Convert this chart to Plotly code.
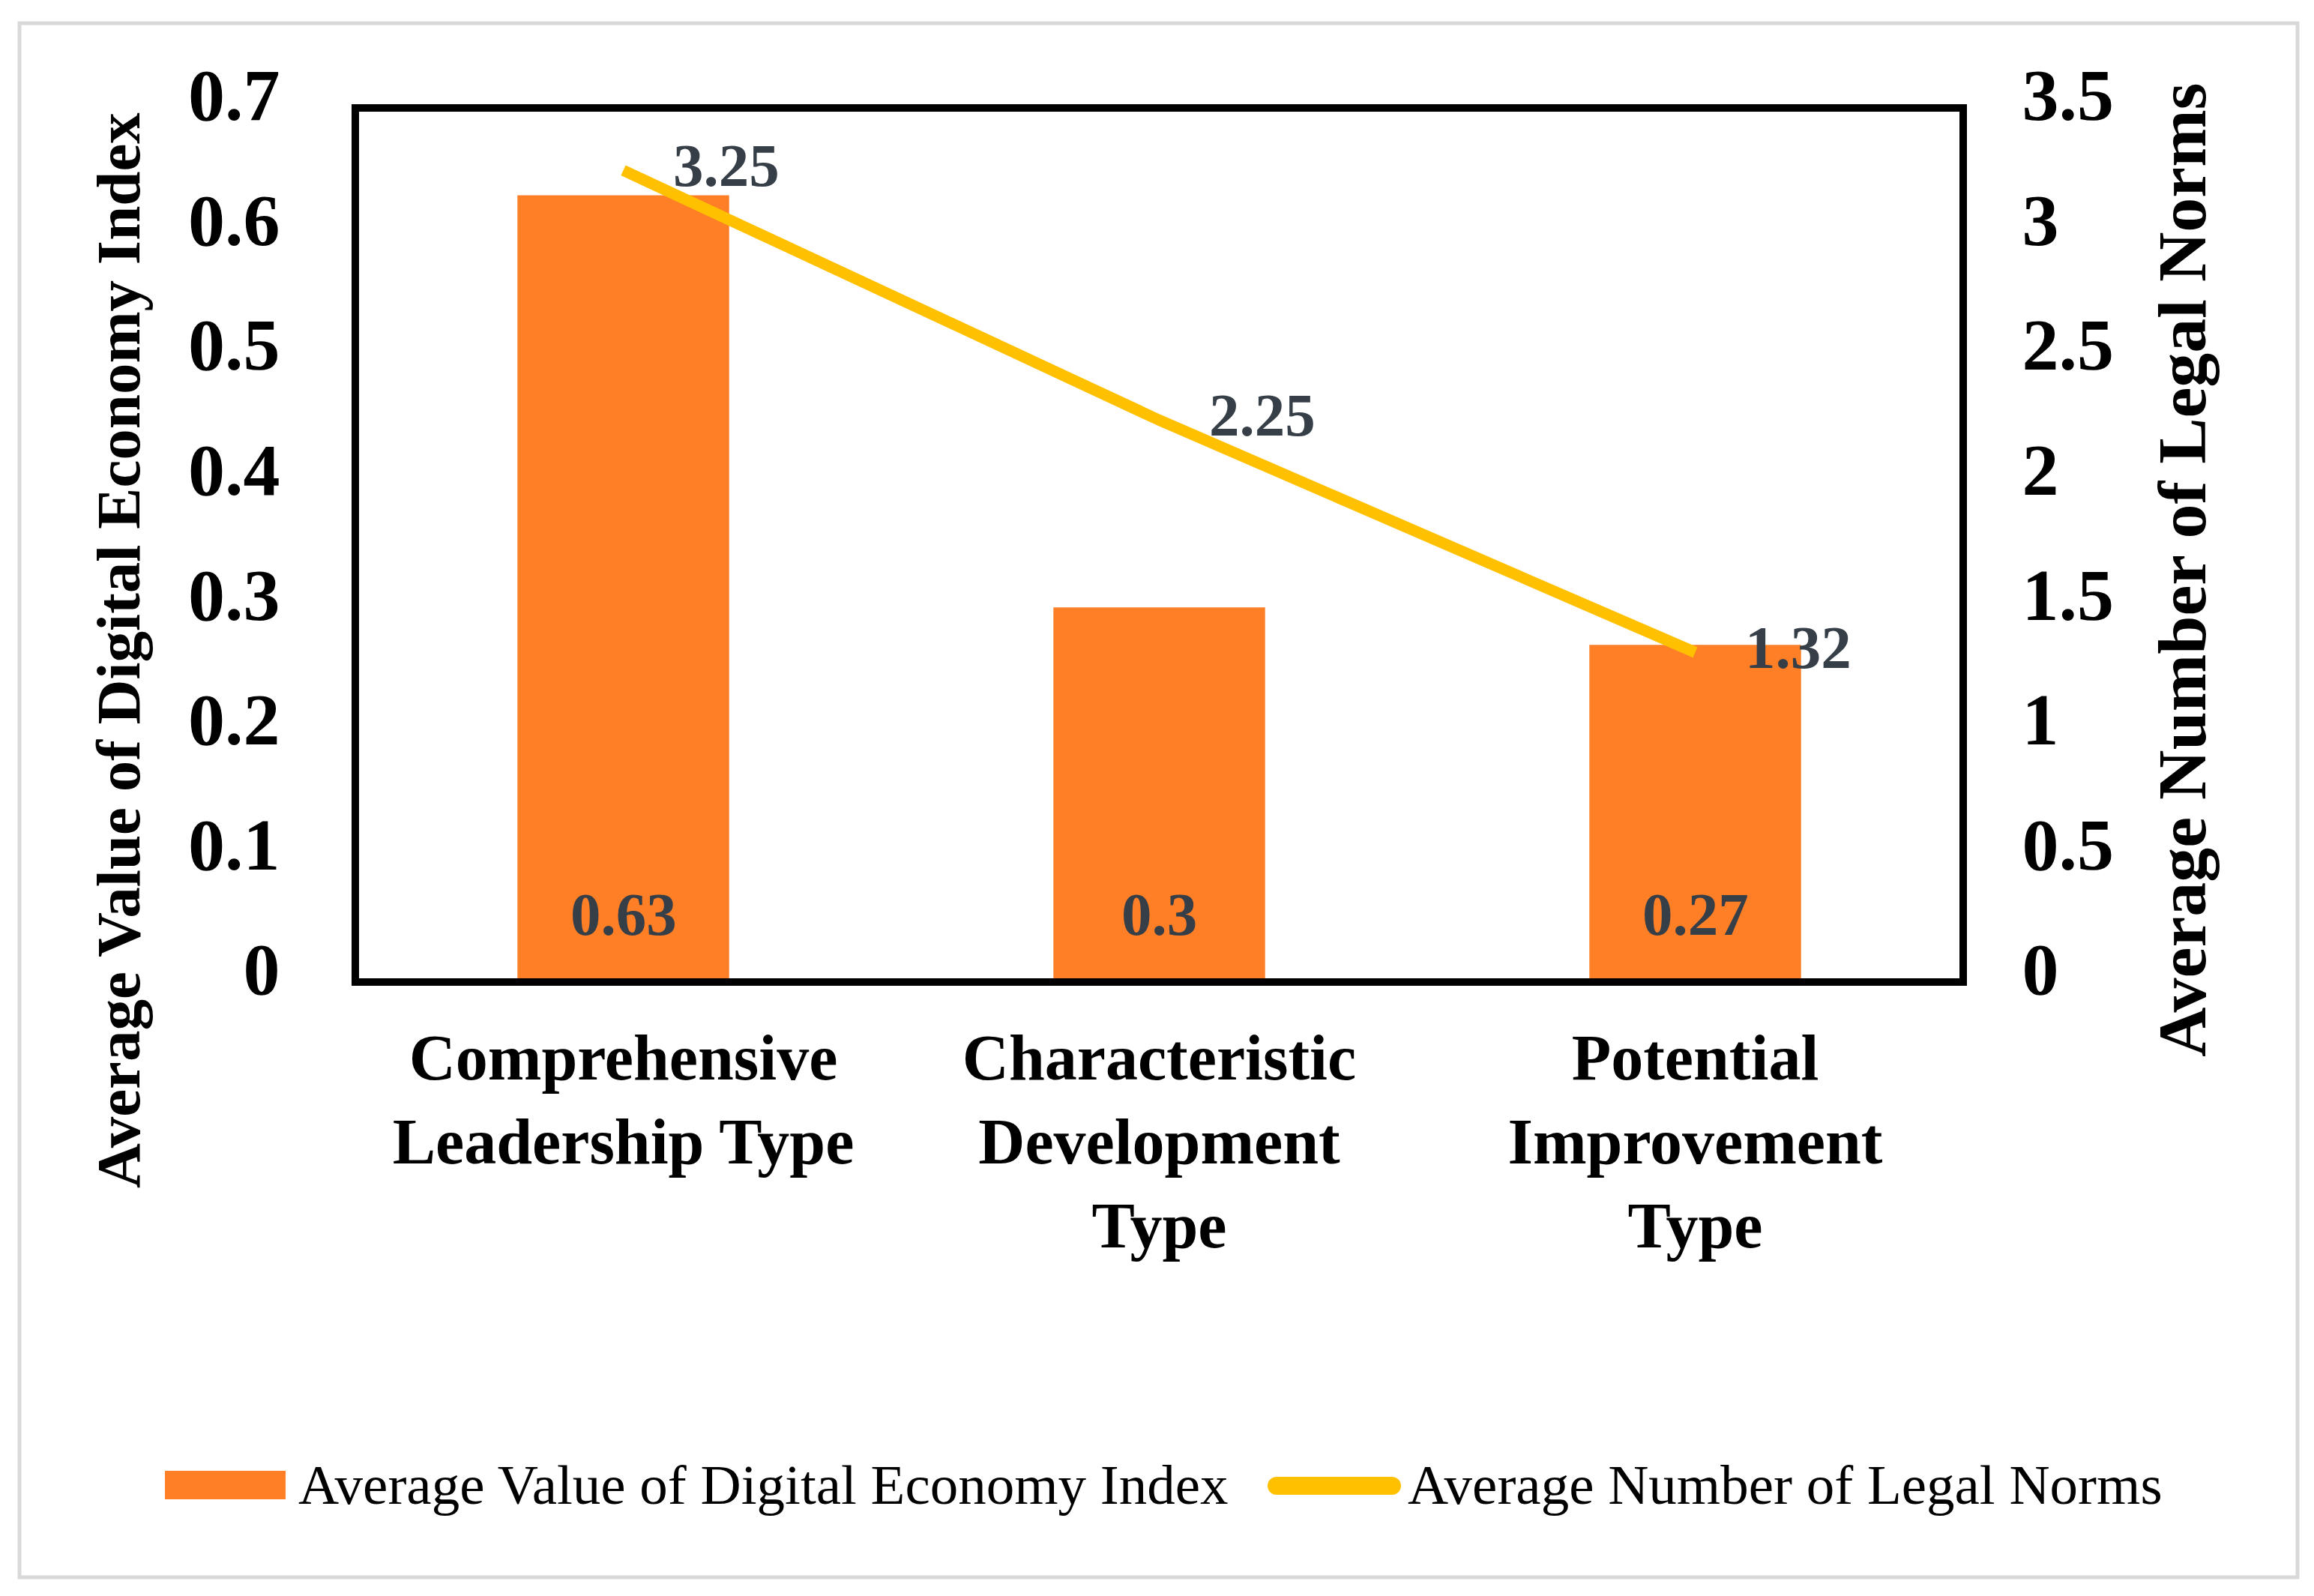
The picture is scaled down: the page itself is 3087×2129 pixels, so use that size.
import plotly.graph_objects as go

# ---- data ----
categories = ["Comprehensive<br>Leadership Type",
              "Characteristic<br>Development<br>Type",
              "Potential<br>Improvement<br>Type"]
digital_index = [0.63, 0.3, 0.27]
legal_norms = [3.25, 2.25, 1.32]
left_ticks = [0, 0.1, 0.2, 0.3, 0.4, 0.5, 0.6, 0.7]
left_tick_text = ["0", "0.1", "0.2", "0.3", "0.4", "0.5", "0.6", "0.7"]
right_ticks = [0, 0.5, 1, 1.5, 2, 2.5, 3, 3.5]
right_tick_text = ["0", "0.5", "1", "1.5", "2", "2.5", "3", "3.5"]
bar_name = "Average Value of Digital Economy Index"
line_name = "Average Number of Legal Norms"

# ---- layout geometry (pixels) ----
W, H = 3087, 2129
PL, PR, PT, PB = 466, 2611, 136, 1302
FONT = "Liberation Serif, Times New Roman, serif"
BAR_COLOR = "#FF7F27"
LINE_COLOR = "#FFC000"
LABEL_COLOR = "#363E47"


def px(x):
    return (x - PL) / (PR - PL)


def py(y):
    return (PB - y) / (PB - PT)


fig = go.Figure()
fig.add_trace(go.Bar(x=categories, y=digital_index, name=bar_name,
                     marker=dict(color=BAR_COLOR, line=dict(width=0)),
                     width=0.395, showlegend=False, yaxis="y"))
fig.add_trace(go.Scatter(x=categories, y=legal_norms, name=line_name,
                         mode="lines", line=dict(color=LINE_COLOR, width=15),
                         showlegend=False, yaxis="y2"))

annotations = []
# bar value labels near the base
for c, v in zip(categories, digital_index):
    annotations.append(dict(x=c, y=0, xref="x", yref="y", text=str(v),
                            showarrow=False, yanchor="middle", yshift=90,
                            font=dict(family=FONT, size=81, color=LABEL_COLOR, weight="bold")))
# line value labels to the right of points
for c, v in zip(categories, legal_norms):
    annotations.append(dict(x=c, y=v, xref="x", yref="y2", text=str(v),
                            showarrow=False, xanchor="left", yanchor="middle",
                            xshift=64, yshift=6,
                            font=dict(family=FONT, size=81, color=LABEL_COLOR, weight="bold")))
# axis titles
annotations.append(dict(x=px(150), y=py(860), xref="paper", yref="paper",
                        text=bar_name, textangle=-90, showarrow=False,
                        xanchor="center", yanchor="middle",
                        font=dict(family=FONT, size=83, color="black", weight="bold")))
annotations.append(dict(x=px(2903), y=py(752), xref="paper", yref="paper",
                        text=line_name, textangle=-90, showarrow=False,
                        xanchor="center", yanchor="middle",
                        font=dict(family=FONT, size=92, color="black", weight="bold")))
# legend texts
annotations.append(dict(x=px(388), y=py(1972), xref="paper", yref="paper",
                        text=bar_name, showarrow=False, xanchor="left", yanchor="middle",
                        font=dict(family=FONT, size=75, color="black")))
annotations.append(dict(x=px(1868), y=py(1972), xref="paper", yref="paper",
                        text=line_name, showarrow=False, xanchor="left", yanchor="middle",
                        font=dict(family=FONT, size=75, color="black")))

shapes = [
    # plot frame
    dict(type="rect", xref="paper", yref="paper", x0=0, x1=1, y0=0, y1=1,
         line=dict(color="black", width=10), layer="above"),
    # outer light frame
    dict(type="rect", xref="paper", yref="paper", x0=px(18), x1=px(3057),
         y0=py(2096), y1=py(23), line=dict(color="#D9D9D9", width=5), layer="below"),
    # legend swatches
    dict(type="rect", xref="paper", yref="paper", x0=px(212), x1=px(373),
         y0=py(1992), y1=py(1954), fillcolor=BAR_COLOR, line=dict(width=0)),
    dict(type="line", xref="paper", yref="paper", x0=px(1695), x1=px(1849),
         y0=py(1974), y1=py(1974), line=dict(color=LINE_COLOR, width=24)),
    dict(type="circle", xref="paper", yref="paper", x0=px(1683), x1=px(1707),
         y0=py(1986), y1=py(1962), fillcolor=LINE_COLOR, line=dict(width=0)),
    dict(type="circle", xref="paper", yref="paper", x0=px(1837), x1=px(1861),
         y0=py(1986), y1=py(1962), fillcolor=LINE_COLOR, line=dict(width=0)),
]

fig.update_layout(
    width=W, height=H,
    margin=dict(l=PL, r=W - PR, t=PT, b=H - PB, pad=0),
    paper_bgcolor="white", plot_bgcolor="white",
    showlegend=False,
    annotations=annotations,
    shapes=shapes,
    font=dict(family=FONT, color="black"),
    xaxis=dict(showgrid=False, showline=False, zeroline=False,
               ticks="outside", ticklen=26, tickcolor="rgba(0,0,0,0)",
               tickfont=dict(family=FONT, size=86, color="black", weight="bold")),
    yaxis=dict(range=[0, 0.7], tickvals=left_ticks, ticktext=left_tick_text,
               showgrid=False, showline=False, zeroline=False,
               ticks="outside", ticklen=80, tickcolor="rgba(0,0,0,0)",
               ticklabelshift=-18,
               tickfont=dict(family=FONT, size=98, color="black", weight="bold")),
    yaxis2=dict(range=[0, 3.5], tickvals=right_ticks, ticktext=right_tick_text,
                overlaying="y", side="right",
                showgrid=False, showline=False, zeroline=False,
                ticks="outside", ticklen=58, tickcolor="rgba(0,0,0,0)",
                ticklabelshift=-18,
                tickfont=dict(family=FONT, size=98, color="black", weight="bold")),
)

fig.write_html("out.html")
